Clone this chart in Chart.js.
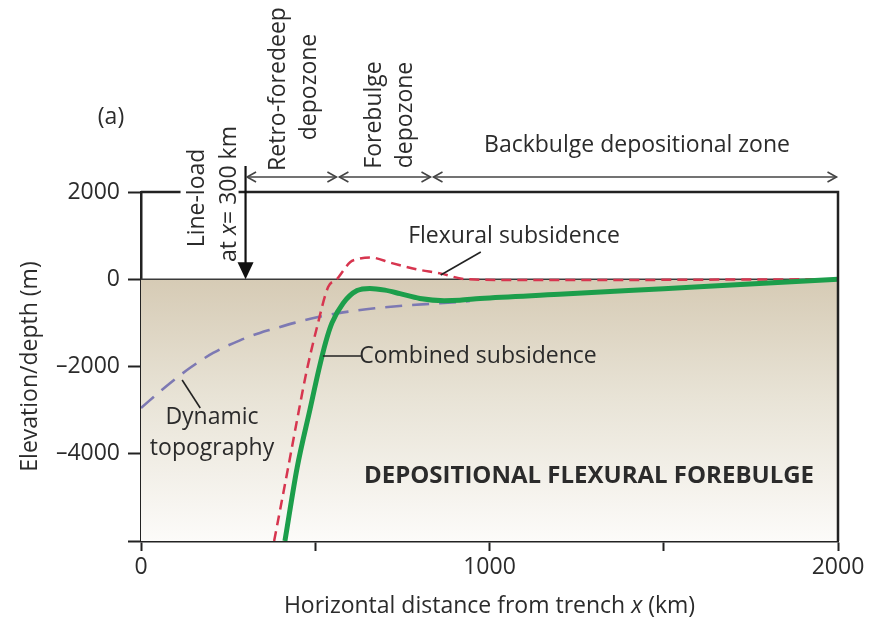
<!DOCTYPE html>
<html>
<head>
<meta charset="utf-8">
<script src="https://cdn.jsdelivr.net/npm/chart.js@4.4.1/dist/chart.umd.min.js"></script>
<style>
  html, body { margin: 0; padding: 0; background: #fff; }
  #wrap { width: 873px; height: 621px; }
</style>
</head>
<body>
<div id="wrap"><canvas id="flexChart"></canvas></div>
<script>
// distances in km from the trench, depths in m
const flexuralX = [382, 400, 425, 448, 476, 505, 537, 562, 600, 620, 657, 720, 790, 858, 935, 1100, 1300, 1600, 2000];
const flexuralY = [-6000, -5250, -4200, -3220, -2080, -1100, -180, 0, 390, 460, 500, 370, 230, 135, 0, -20, -20, -10, 0];

const combinedX = [413, 448, 485, 510, 530, 548, 580, 620, 657, 700, 743, 800, 870, 915, 973, 1200, 1500, 1800, 2000];
const combinedY = [-6000, -4320, -2980, -2080, -1440, -1000, -550, -260, -210, -250, -330, -440, -490, -480, -440, -345, -215, -85, 0];

const dynamicX = [0, 70, 141, 207, 284, 341, 379, 440, 505, 580, 671, 760, 858, 944];
const dynamicY = [-2950, -2470, -2030, -1690, -1400, -1230, -1140, -1000, -870, -760, -665, -600, -550, -500];

const seaLevelX = [0, 2000];
const seaLevelY = [0, 0];

const loadX = 300;
const zoneEdges = [300, 565, 835, 2000];
const yTicks = [-6000, -4000, -2000, 0, 2000];
const xTicks = [0, 500, 1000, 1500, 2000];
const xLabelled = [0, 1000, 2000];

const FONT = '"Open Sans", sans-serif';
const INK = '#2b2b2b';
const SIZE = 23;

const pts = (xs, ys) => xs.map((x, i) => ({ x: x, y: ys[i] }));

function drawPieces(ctx, pieces, x, y, size, rot) {
  // pieces: [text, italic?, bold?] drawn one after another, centred on (x, y)
  ctx.save();
  ctx.translate(x, y);
  if (rot) ctx.rotate(rot);
  ctx.textBaseline = 'middle';
  ctx.textAlign = 'left';
  ctx.fillStyle = INK;
  const fontOf = p => (p[1] ? 'italic ' : '') + (p[2] ? 'bold ' : '') + size + 'px ' + FONT;
  let total = 0;
  pieces.forEach(p => { ctx.font = fontOf(p); total += ctx.measureText(p[0]).width; });
  let cx = -total / 2;
  pieces.forEach(p => {
    ctx.font = fontOf(p);
    ctx.fillText(p[0], cx, 0);
    cx += ctx.measureText(p[0]).width;
  });
  ctx.restore();
}

function chevron(ctx, x, y, dir) {
  ctx.beginPath();
  ctx.moveTo(x - dir * 9, y - 5);
  ctx.lineTo(x, y);
  ctx.lineTo(x - dir * 9, y + 5);
  ctx.stroke();
}

function line(ctx, x1, y1, x2, y2) {
  ctx.beginPath();
  ctx.moveTo(x1, y1);
  ctx.lineTo(x2, y2);
  ctx.stroke();
}

const annotations = {
  id: 'annotations',
  afterDraw(chart) {
    const ctx = chart.ctx;
    const area = chart.chartArea;
    const xs = chart.scales.x, ys = chart.scales.y;
    const px = v => xs.getPixelForValue(v);
    const py = v => ys.getPixelForValue(v);

    ctx.save();
    // top and right frame
    ctx.strokeStyle = '#222';
    ctx.lineWidth = 2.5;
    ctx.beginPath();
    ctx.moveTo(area.left, area.top);
    ctx.lineTo(area.right, area.top);
    ctx.lineTo(area.right, area.bottom);
    ctx.stroke();

    // line-load label sits over the frame
    const lx = px(loadX);
    ctx.fillStyle = '#fff';
    ctx.fillRect(lx - 65, area.top - 8, 58, 16);

    // line-load arrow
    ctx.strokeStyle = '#111';
    ctx.lineWidth = 2.2;
    line(ctx, lx, area.top - 26, lx, py(0) - 16);
    ctx.fillStyle = '#111';
    ctx.beginPath();
    ctx.moveTo(lx - 8, py(0) - 17);
    ctx.lineTo(lx + 8, py(0) - 17);
    ctx.lineTo(lx, py(0));
    ctx.closePath();
    ctx.fill();

    // depozone arrows
    const ay = area.top - 15;
    ctx.strokeStyle = '#444';
    ctx.lineWidth = 1.6;
    for (let i = 0; i < zoneEdges.length - 1; i++) {
      const a = px(zoneEdges[i]) + 1.5, b = px(zoneEdges[i + 1]) - 1.5;
      line(ctx, a, ay, b, ay);
      chevron(ctx, a, ay, -1);
      chevron(ctx, b, ay, 1);
    }

    // leader lines
    ctx.strokeStyle = '#222';
    ctx.lineWidth = 1.6;
    line(ctx, px(975), 252, px(860), 275);
    line(ctx, px(522), py(-1760), px(634), py(-1760));
    line(ctx, px(118), 380, px(170), 408);
    ctx.restore();

    const R = -Math.PI / 2;
    drawPieces(ctx, [['(a)']], 111, 117, SIZE, 0);
    drawPieces(ctx, [['Line-load']], lx - 48, 198, SIZE, R);
    drawPieces(ctx, [['at '], ['x', true], ['= 300 km']], lx - 16, 194, SIZE, R);
    drawPieces(ctx, [['Retro-foredeep']], 278, 89, SIZE, R);
    drawPieces(ctx, [['depozone']], 309, 87, SIZE, R);
    drawPieces(ctx, [['Forebulge']], 374, 115, SIZE, R);
    drawPieces(ctx, [['depozone']], 405, 115, SIZE, R);
    drawPieces(ctx, [['Backbulge depositional zone']], 637, 145, SIZE, 0);
    drawPieces(ctx, [['Flexural subsidence']], 514, 236, SIZE, 0);
    drawPieces(ctx, [['Combined subsidence']], 478, 356, SIZE, 0);
    drawPieces(ctx, [['Dynamic']], 212, 417, SIZE, 0);
    drawPieces(ctx, [['topography']], 212, 448, SIZE, 0);
    drawPieces(ctx, [['DEPOSITIONAL FLEXURAL FOREBULGE', false, true]], 589, 476, 24, 0);

    // axis titles
    drawPieces(ctx, [['Elevation/depth (m)']], 30, (area.top + area.bottom) / 2, SIZE, R);
    drawPieces(ctx, [['Horizontal distance from trench '], ['x', true], [' (km)']],
      (area.left + area.right) / 2, 606, SIZE, 0);
  }
};

const ctx = document.getElementById('flexChart').getContext('2d');
new Chart(ctx, {
  type: 'line',
  data: {
    datasets: [
      {
        label: 'Combined subsidence',
        data: pts(combinedX, combinedY),
        borderColor: '#1c9e4b',
        borderWidth: 5,
        cubicInterpolationMode: 'monotone',
        pointRadius: 0,
        order: 1
      },
      {
        label: 'Flexural subsidence',
        data: pts(flexuralX, flexuralY),
        borderColor: '#d7354f',
        borderWidth: 2.5,
        borderDash: [10, 6],
        cubicInterpolationMode: 'monotone',
        pointRadius: 0,
        order: 2
      },
      {
        label: 'Dynamic topography',
        data: pts(dynamicX, dynamicY),
        borderColor: '#7d79b3',
        borderWidth: 2.6,
        borderDash: [17, 10],
        cubicInterpolationMode: 'monotone',
        pointRadius: 0,
        order: 3
      },
      {
        label: 'Sea level',
        data: pts(seaLevelX, seaLevelY),
        borderColor: '#3a3a3a',
        borderWidth: 1.6,
        pointRadius: 0,
        fill: 'start',
        backgroundColor: (c) => {
          const area = c.chart.chartArea;
          if (!area) return '#d8cfbd';
          const top = c.chart.scales.y.getPixelForValue(0);
          const g = c.chart.ctx.createLinearGradient(0, top, 0, area.bottom);
          g.addColorStop(0, '#d6cbb5');
          g.addColorStop(0.45, '#e8e3d6');
          g.addColorStop(1, '#fcfbf9');
          return g;
        },
        order: 10
      }
    ]
  },
  options: {
    responsive: true,
    maintainAspectRatio: false,
    animation: false,
    layout: { padding: { left: 0, top: 192, right: 35, bottom: 0 } },
    plugins: {
      legend: { display: false },
      tooltip: { enabled: false }
    },
    scales: {
      x: {
        type: 'linear',
        min: 0,
        max: 2000,
        afterFit: (s) => { s.height = 80; },
        afterBuildTicks: (s) => { s.ticks = xTicks.map(v => ({ value: v })); },
        ticks: {
          padding: 3,
          color: INK,
          font: { family: FONT, size: SIZE },
          maxRotation: 0,
          callback: (v) => xLabelled.includes(v) ? String(v) : ''
        },
        grid: { drawOnChartArea: false, tickLength: 10, tickWidth: 2, tickColor: '#222' },
        border: { display: true, color: '#222', width: 2.5 }
      },
      y: {
        type: 'linear',
        min: -6000,
        max: 2000,
        afterFit: (s) => { s.width = 141; },
        afterBuildTicks: (s) => { s.ticks = yTicks.map(v => ({ value: v })); },
        ticks: {
          padding: 8,
          color: INK,
          font: { family: FONT, size: SIZE },
          callback: (v) => v === -6000 ? '' : (v < 0 ? '\u2013' + Math.abs(v) : String(v))
        },
        grid: { drawOnChartArea: false, tickLength: 13, tickWidth: 2, tickColor: '#222' },
        border: { display: true, color: '#222', width: 2.5 }
      }
    }
  },
  plugins: [annotations]
});
</script>
</body>
</html>
